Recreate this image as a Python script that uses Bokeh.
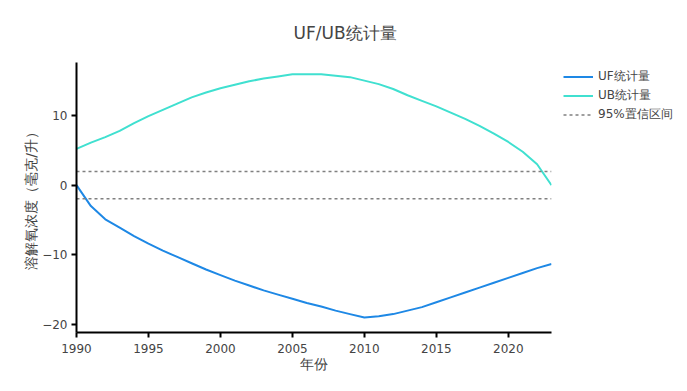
from bokeh.plotting import figure
from bokeh.layouts import row
from bokeh.models import FixedTicker, Legend, LegendItem, Title, Range1d
from bokeh.embed import file_html
from bokeh.resources import INLINE

years = list(range(1990, 2024))
uf = [0.0, -3.0, -4.9, -6.1, -7.3, -8.4, -9.4, -10.3, -11.2, -12.1, -12.9,
      -13.7, -14.4, -15.1, -15.7, -16.3, -16.9, -17.4, -18.0, -18.5, -19.0,
      -18.8, -18.5, -18.0, -17.5, -16.8, -16.1, -15.4, -14.7, -14.0, -13.3,
      -12.6, -11.9, -11.3]
ub = [5.2, 6.1, 6.9, 7.8, 8.9, 9.9, 10.8, 11.7, 12.6, 13.3, 13.9,
      14.4, 14.9, 15.3, 15.6, 15.9, 15.9, 15.9, 15.7, 15.5, 15.0,
      14.5, 13.8, 12.9, 12.1, 11.3, 10.4, 9.5, 8.5, 7.4, 6.2,
      4.8, 3.0, 0.0]
conf = 1.96
x_ticks = [1990, 1995, 2000, 2005, 2010, 2015, 2020]
y_ticks = [-20, -10, 0, 10]
y_labels = {-20: "\u221220", -10: "\u221210", 0: "0", 10: "10"}
series_names = ["UF统计量", "UB统计量", "95%置信区间"]
colors = ["#1E88E5", "#40E0D0", "#808080"]

FONT = "DejaVu Sans"
TXT = "#444444"

# ---- main chart -------------------------------------------------------
p = figure(width=556, height=391, output_backend="svg", toolbar_location=None,
           x_range=(1990, 2023), y_range=(-21.14, 17.6),
           min_border_left=76, min_border_right=5, min_border_top=62,
           min_border_bottom=59)
p.title = None
p.add_layout(Title(text="UF/UB统计量", align="left", offset=217,
                   text_font=FONT, text_font_size="17px", text_color=TXT,
                   text_font_style="normal", standoff=40), "above")

p.outline_line_color = None
p.grid.visible = False
p.background_fill_color = "white"

for ax in (p.xaxis[0], p.yaxis[0]):
    ax.axis_line_color = "black"
    ax.axis_line_width = 2
    ax.major_tick_line_color = "black"
    ax.major_tick_line_width = 2
    ax.major_tick_out = 5
    ax.major_tick_in = 0
    ax.minor_tick_line_color = None
    ax.major_label_text_font = FONT
    ax.major_label_text_font_size = "12px"
    ax.major_label_text_color = TXT
    ax.axis_label_text_font = FONT
    ax.axis_label_text_font_size = "14px"
    ax.axis_label_text_color = TXT
    ax.axis_label_text_font_style = "normal"

p.xaxis.ticker = FixedTicker(ticks=x_ticks)
p.xaxis.axis_label = "年份"
p.xaxis.major_label_standoff = 6
p.xaxis.axis_label_standoff = 0

p.yaxis.ticker = FixedTicker(ticks=y_ticks)
p.yaxis.major_label_overrides = y_labels
p.yaxis.axis_label = "溶解氧浓度（毫克/升）"
p.yaxis.major_label_standoff = 4
p.yaxis.axis_label_standoff = 0

p.line(years, uf, line_color=colors[0], line_width=2)
p.line(years, ub, line_color=colors[1], line_width=2)
for c in (conf, -conf):
    p.line([years[0], years[-1]], [c, c], line_color=colors[2],
           line_width=1.5, line_dash="3 3")

# ---- legend panel (same series, drawn outside its ranges) -------------
q = figure(width=131, height=391, output_backend="svg", toolbar_location=None,
           x_axis_location=None, y_axis_location=None,
           x_range=Range1d(0, 1), y_range=Range1d(0, 1),
           min_border_left=2, min_border_right=0, min_border_top=62,
           min_border_bottom=59)
q.title = None
q.outline_line_color = None
q.grid.visible = False
g_uf = q.line(years, uf, line_color=colors[0], line_width=2)
g_ub = q.line(years, ub, line_color=colors[1], line_width=2)
g_ci = q.line([years[0], years[-1]], [conf, conf], line_color=colors[2],
              line_width=1.5, line_dash="3 3")

legend = Legend(items=[LegendItem(label=series_names[0], renderers=[g_uf]),
                       LegendItem(label=series_names[1], renderers=[g_ub]),
                       LegendItem(label=series_names[2], renderers=[g_ci])],
                location="top_left", margin=5, padding=3, spacing=0,
                label_height=19, glyph_height=19, glyph_width=30,
                label_standoff=5,
                label_text_font=FONT, label_text_font_size="12px",
                label_text_color=TXT, border_line_color=None,
                background_fill_alpha=0)
q.add_layout(legend, "center")

layout = row(p, q, spacing=0)
open("out.html", "w").write(file_html(layout, INLINE))
